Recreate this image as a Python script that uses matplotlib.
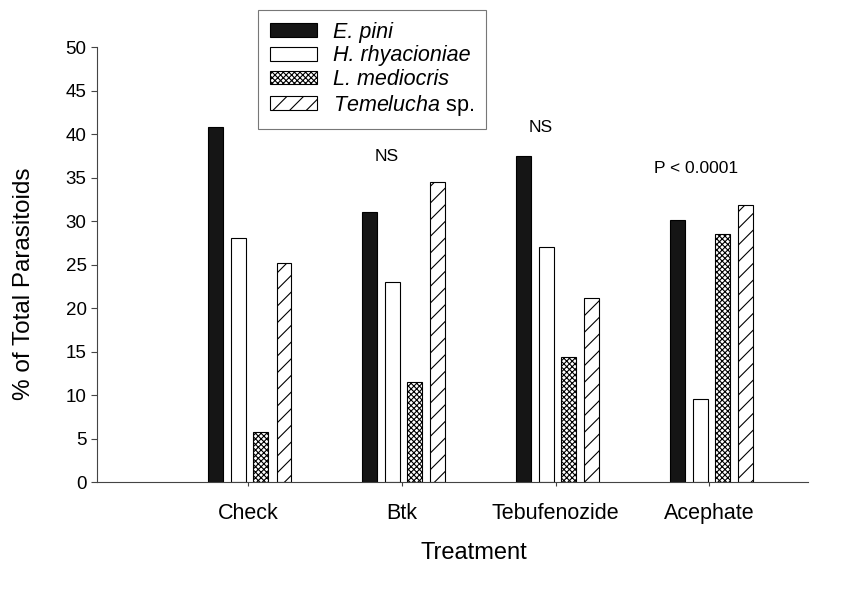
import matplotlib
matplotlib.use("Agg")
import matplotlib.pyplot as plt
import numpy as np

plt.rcParams['font.family'] = ['Liberation Sans', 'DejaVu Sans']
plt.rcParams['mathtext.fontset'] = 'custom'
plt.rcParams['mathtext.rm'] = 'Liberation Sans'
plt.rcParams['mathtext.it'] = 'Liberation Sans:italic'
plt.rcParams['hatch.linewidth'] = 0.8

# data
treatments = ['Check', 'Btk', 'Tebufenozide', 'Acephate']
species = ['E. pini', 'H. rhyacioniae', 'L. mediocris', r'$\it{Temelucha}$ sp.']
e_pini = [40.8, 31.1, 37.5, 30.1]
h_rhyacioniae = [28.1, 23.0, 27.0, 9.6]
l_mediocris = [5.8, 11.5, 14.4, 28.5]
temelucha = [25.2, 34.5, 21.2, 31.8]

# significance labels: (text, x position, y value)
notes = ['NS', 'NS', 'P < 0.0001']
note_x = [1.90, 2.90, 3.91]
note_y = [37.4, 40.8, 36.0]

fig = plt.figure(figsize=(8.54, 5.90), dpi=100)
ax = fig.add_axes([0.1136, 0.183, 0.8325, 0.737])

x = np.arange(1, len(treatments) + 1)
width = 0.097
offsets = [-0.21, -0.06, 0.085, 0.235]
styles = [dict(color='#151515', edgecolor='black'),
          dict(color='white', edgecolor='black'),
          dict(color='white', edgecolor='black', hatch='xxxxxx'),
          dict(color='white', edgecolor='black', hatch='//')]

for vals, off, lab, st in zip([e_pini, h_rhyacioniae, l_mediocris, temelucha], offsets, species, styles):
    ax.bar(x + off, vals, width, label=lab, linewidth=0.8, **st)

for t, xx, yy in zip(notes, note_x, note_y):
    ax.text(xx, yy, t, ha='center', va='center', fontsize=12.5)

ax.set_xlim(0.02, 4.64)
ax.set_ylim(0, 50)
ax.set_yticks(np.arange(0, 51, 5))
ax.set_xticks(x)
ax.set_xticklabels(treatments)
ax.tick_params(length=4, width=0.8, color='#444444')
ax.tick_params(axis='y', labelsize=13.5)
ax.tick_params(axis='x', labelsize=15.5, length=3, pad=12)
for s in ['top', 'right']:
    ax.spines[s].set_visible(False)
for s in ['left', 'bottom']:
    ax.spines[s].set_linewidth(0.8)
    ax.spines[s].set_color('#444444')

ax.set_ylabel('% of Total Parasitoids', fontsize=17.5)
ax.set_xlabel('Treatment', fontsize=17)
ax.yaxis.set_label_coords(-0.087, 0.457)
ax.xaxis.set_label_coords(0.53, -0.139)

leg = ax.legend(loc='upper left', bbox_to_anchor=(0.302, 0.983), bbox_transform=fig.transFigure,
                fancybox=False, fontsize=15.5, handlelength=2.2, handleheight=0.6,
                borderpad=0.55, labelspacing=0.12, handletextpad=0.75, borderaxespad=0)
leg.get_frame().set_edgecolor('#555555')
leg.get_frame().set_linewidth(0.8)
for txt in leg.get_texts()[:3]:
    txt.set_fontstyle('italic')

fig.savefig('out.png', dpi=100)
